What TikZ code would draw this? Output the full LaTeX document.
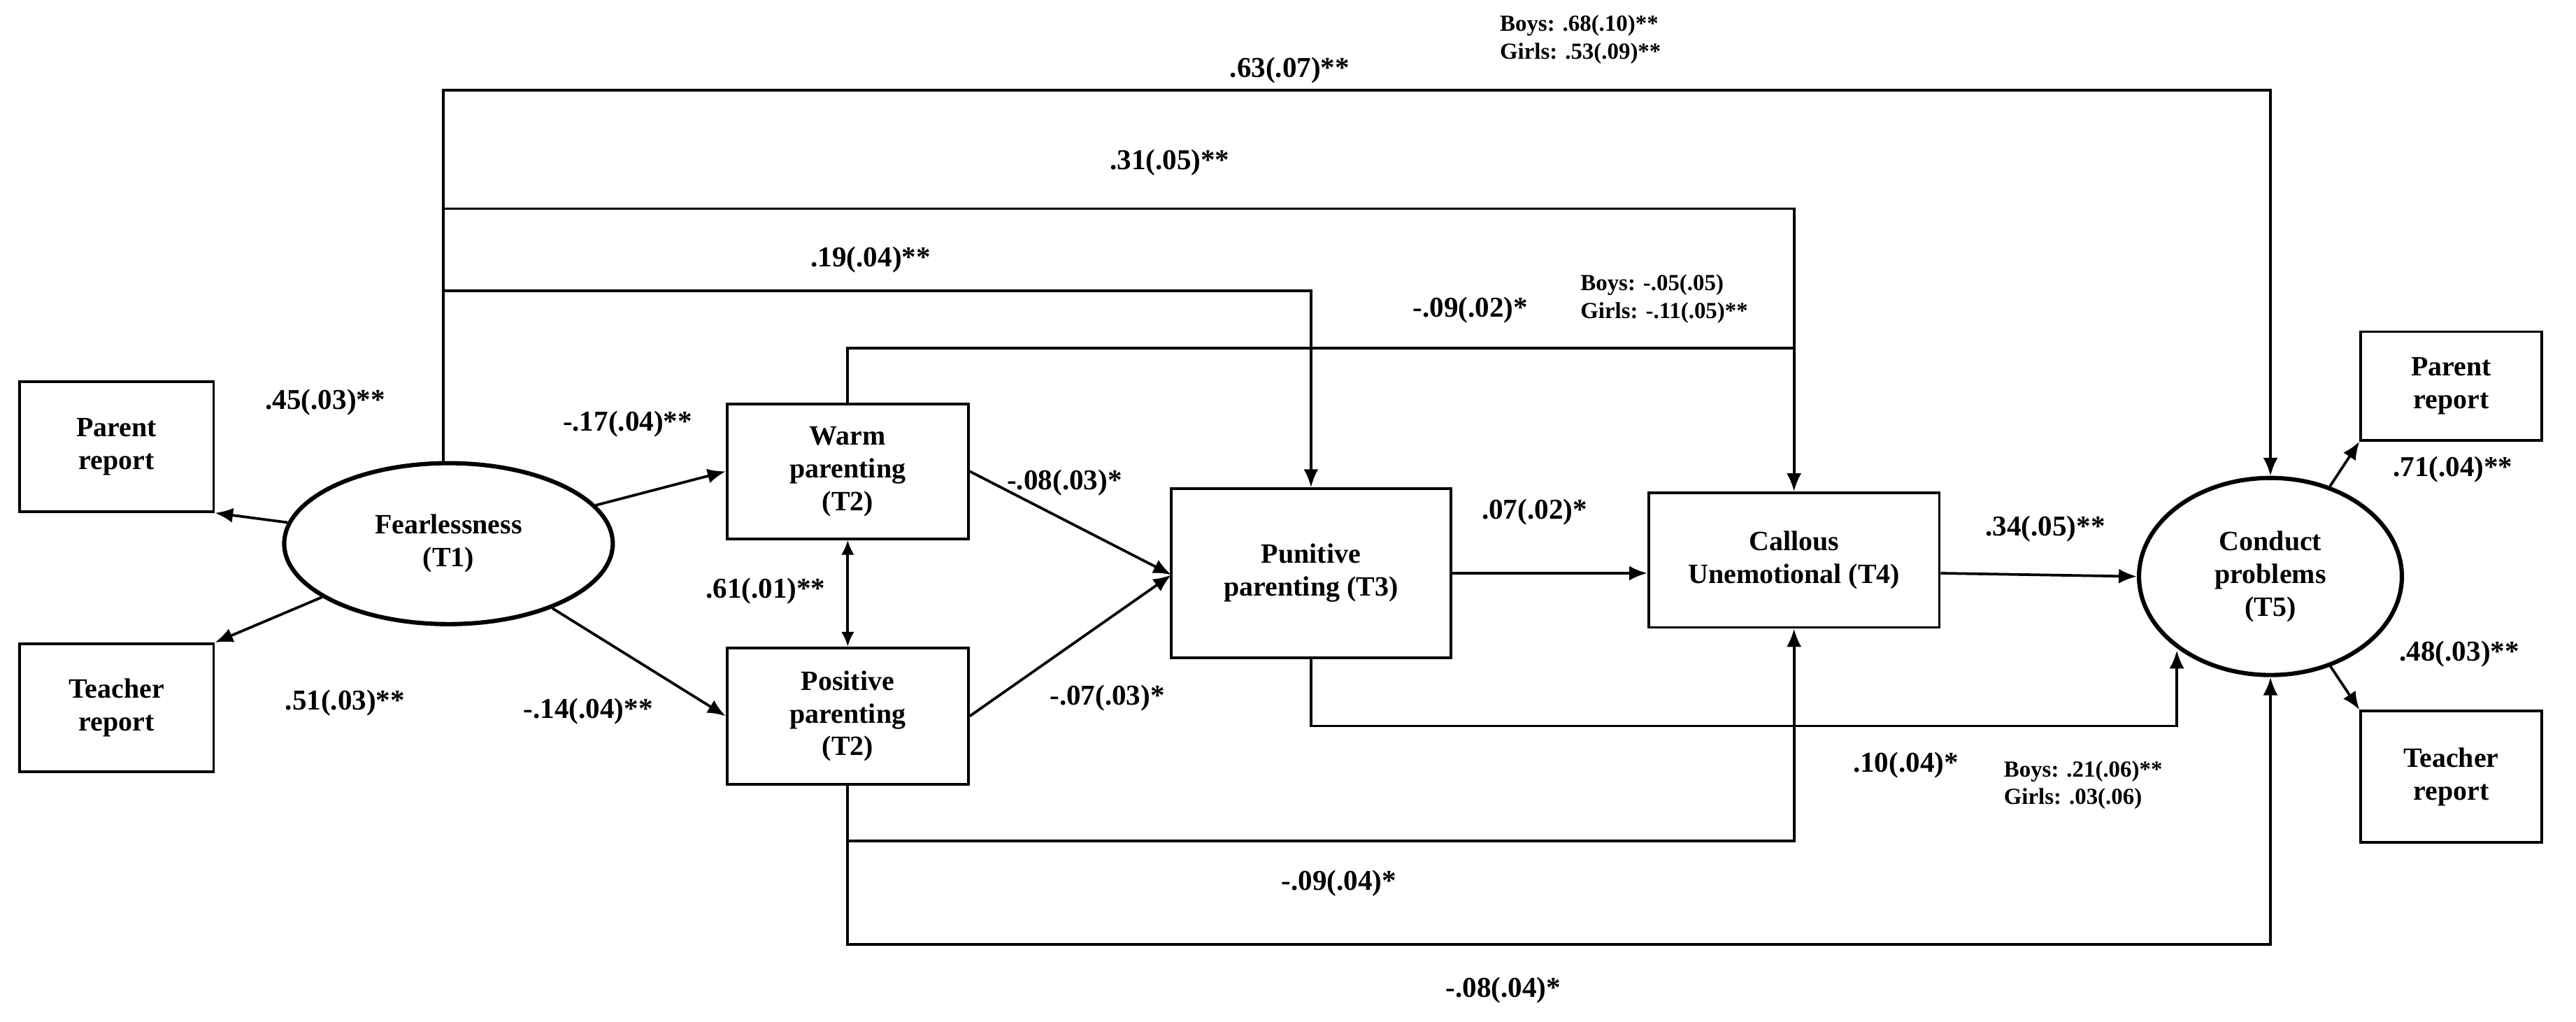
\documentclass[tikz,border=0pt]{standalone}
\usepackage{fontspec}
\setmainfont{Liberation Serif}
\usetikzlibrary{arrows.meta,shapes.geometric}
\begin{document}
\begin{tikzpicture}[x=1pt,y=-1pt,
  box/.style={draw,line width=1.6pt,align=center,font=\fontsize{17}{20}\selectfont\bfseries,inner sep=0pt},
  ell/.style={draw,ellipse,line width=2.6pt,align=center,font=\fontsize{17}{20}\selectfont\bfseries,inner sep=0pt},
  lab/.style={font=\fontsize{17.5}{19}\selectfont\bfseries},
  sm/.style={font=\fontsize{14}{17}\selectfont\bfseries,align=left},
  ar/.style={line width=1.6pt,-{Latex[length=11pt,width=9pt]}},
  ln/.style={line width=1.6pt}]
\useasboundingbox (0,0) rectangle (1568,622);
\node[box,minimum width=118pt,minimum height=79pt] (pr1) at (71,272) {Parent\\report};
\node[box,minimum width=118pt,minimum height=78pt] (tr1) at (71,431) {Teacher\\report};
\node[ell,minimum width=200pt,minimum height=98pt] (fe) at (273,331) {Fearlessness\\(T1)};
\node[box,minimum width=147pt,minimum height=82pt] (wp) at (516,287) {Warm\\parenting\\(T2)};
\node[box,minimum width=147pt,minimum height=83pt] (pp) at (516,436) {Positive\\parenting\\(T2)};
\node[box,minimum width=170pt,minimum height=103pt] (pu) at (798,349) {Punitive\\parenting (T3)};
\node[box,minimum width=177pt,minimum height=82pt] (cu) at (1092,341) {Callous\\Unemotional (T4)};
\node[ell,minimum width=160pt,minimum height=120pt] (cp) at (1382,351) {Conduct\\problems\\(T5)};
\node[box,minimum width=110pt,minimum height=66pt] (pr2) at (1492,235) {Parent\\report};
\node[box,minimum width=110pt,minimum height=80pt] (tr2) at (1492,473) {Teacher\\report};
\coordinate (j) at (713,350);

\draw[ar] (fe) -- (pr1.south east);
\draw[ar] (fe) -- (tr1.north east);
\draw[ar] (fe) -- (wp.west);
\draw[ar] (fe) -- (pp.west);
\draw[line width=1.6pt,{Latex[length=9pt,width=8pt]}-{Latex[length=9pt,width=8pt]}] (wp) -- (pp);
\draw[ar] (wp.east) -- (j);
\draw[ar] (pp.east) -- (j);
\draw[ar] (pu.east |- 0,349) -- (cu.west |- 0,349);
\draw[ar] (cu.east |- 0,349) -- (cp.west);
\draw[ar] (cp) -- (pr2.south west);
\draw[ar] (cp) -- (tr2.north west);

\draw[ar] (270,283) |- (1382,55) -- (cp.north);
\draw[ar] (270,127) -| (cu.north);
\draw[ar] (270,177) -| (pu.north);
\draw[ln] (wp.north) |- (1092,212);
\draw[ar] (pu.south) |- (1325,442) -- (1325,396);
\draw[ar] (pp.south) |- (1092,512) -- (cu.south);
\draw[ar] (pp.south) |- (1382,575) -- (cp.south);

\node[lab] at (785,43) {.63(.07)**};
\node[sm] at (962,24) {Boys: .68(.10)**\\Girls: .53(.09)**};
\node[lab] at (712,99) {.31(.05)**};
\node[lab] at (530,158) {.19(.04)**};
\node[lab] at (895,189) {-.09(.02)*};
\node[sm] at (1013,182) {Boys: -.05(.05)\\Girls: -.11(.05)**};
\node[lab] at (198,245) {.45(.03)**};
\node[lab] at (210,428) {.51(.03)**};
\node[lab] at (382,258) {-.17(.04)**};
\node[lab] at (358,433) {-.14(.04)**};
\node[lab] at (466,360) {.61(.01)**};
\node[lab] at (648,294) {-.08(.03)*};
\node[lab] at (674,425) {-.07(.03)*};
\node[lab] at (934,312) {.07(.02)*};
\node[lab] at (1245,322) {.34(.05)**};
\node[lab] at (1160,466) {.10(.04)*};
\node[sm] at (1268,478) {Boys: .21(.06)**\\Girls: .03(.06)};
\node[lab] at (815,538) {-.09(.04)*};
\node[lab] at (915,603) {-.08(.04)*};
\node[lab] at (1493,286) {.71(.04)**};
\node[lab] at (1497,398) {.48(.03)**};
\end{tikzpicture}
\end{document}
